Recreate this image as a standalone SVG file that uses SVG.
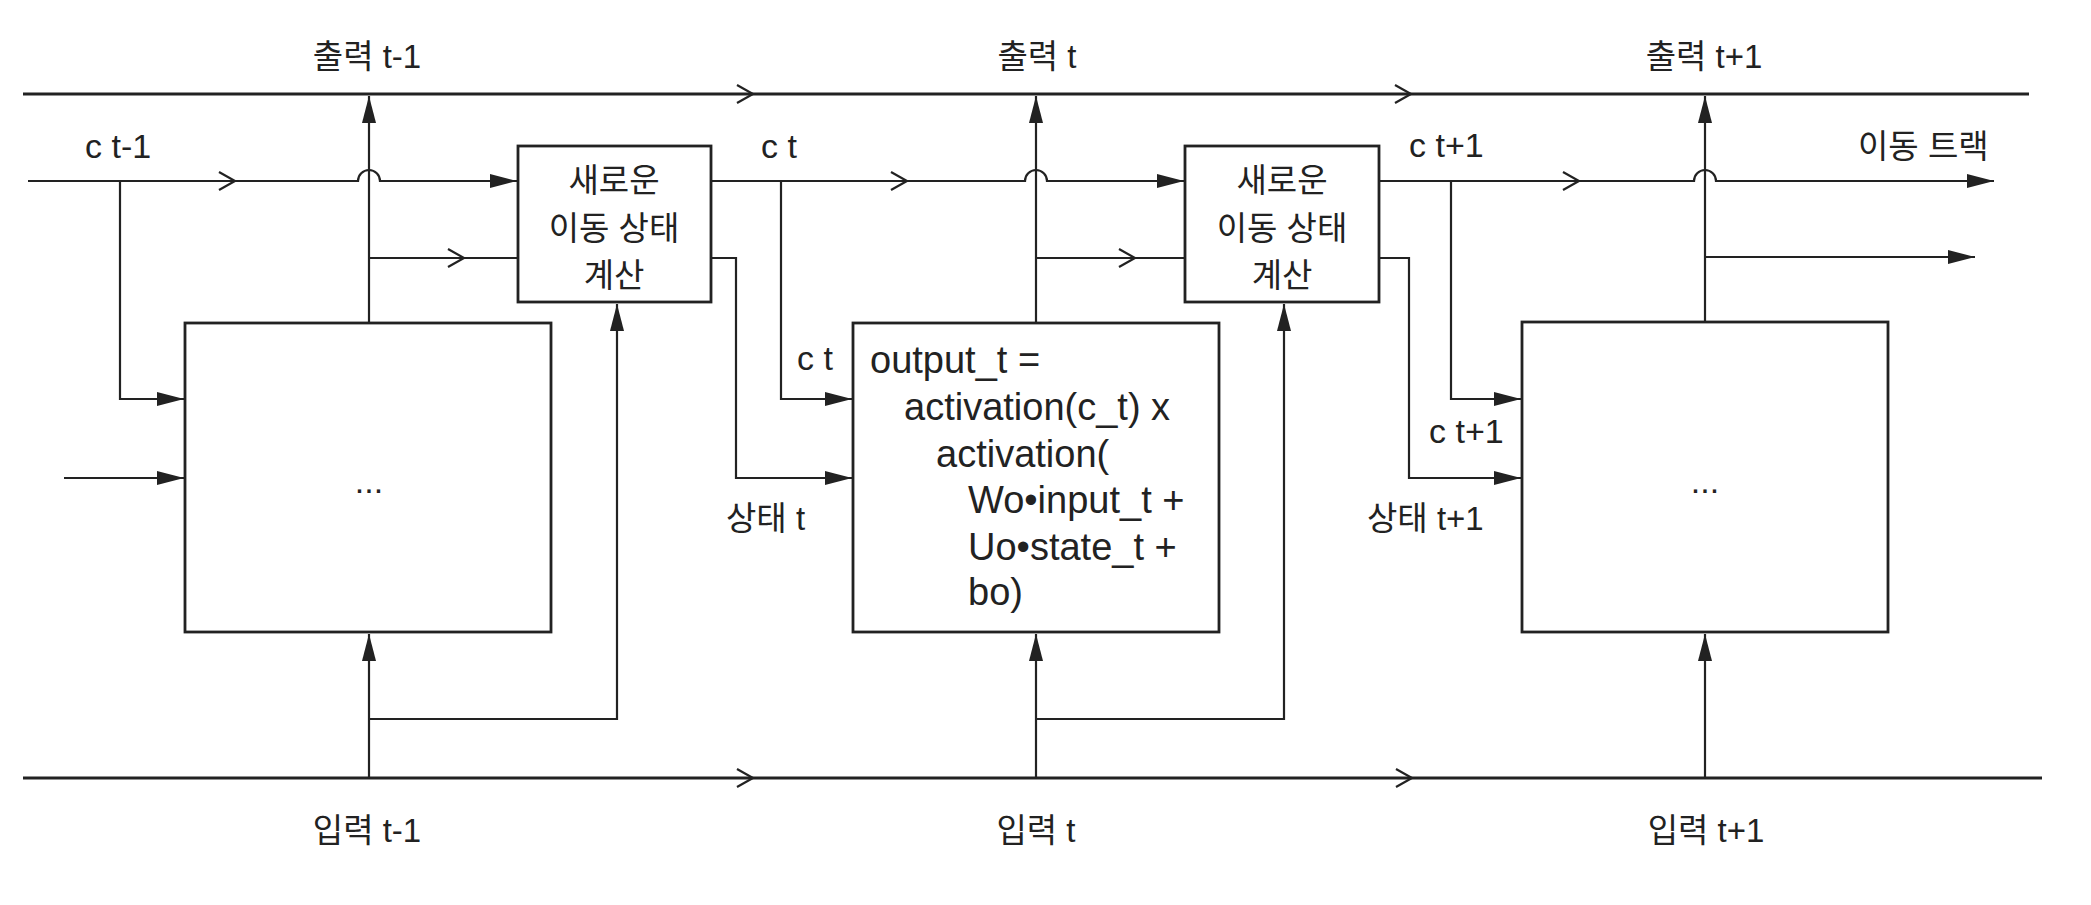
<svg xmlns="http://www.w3.org/2000/svg" width="2091" height="905" viewBox="0 0 2091 905">
<style>
.ln{fill:none;stroke:#222;stroke-width:2.2}
.mn{fill:none;stroke:#222;stroke-width:2.8}
.bx{fill:#fff;stroke:#222;stroke-width:2.8}
.ch{fill:none;stroke:#222;stroke-width:2.2}
.t{font-family:"Liberation Sans","Noto Sans CJK KR",sans-serif;font-size:34px;fill:#222}
.k{font-family:"Liberation Sans","Noto Sans CJK KR",sans-serif;font-size:33px;fill:#222}
.f{font-family:"Liberation Sans",Arial,sans-serif;font-size:38px;fill:#222}
.m{text-anchor:middle}
</style>
<defs>
<marker id="ah" markerUnits="userSpaceOnUse" markerWidth="28" markerHeight="16" refX="27" refY="7" orient="auto">
<path d="M0,0 L27,7 L0,14 z" fill="#222"/>
</marker>
</defs>
<rect width="2091" height="905" fill="#fff"/>

<g id="connectors">
<path class="mn" d="M23,94 H2029"/>
<path class="ch" d="M737,85 L753,94 L737,103"/>
<path class="ch" d="M1395,85 L1411,94 L1395,103"/>
<path class="mn" d="M23,778 H2042"/>
<path class="ch" d="M737,769 L753,778 L737,787"/>
<path class="ch" d="M1396,769 L1412,778 L1396,787"/>

<path class="ln" d="M28,181 H358 A11,11 0 0 1 380,181 H517" marker-end="url(#ah)"/>
<path class="ch" d="M219,172 L235,181 L219,190"/>
<path class="ln" d="M120,181 V399 H184" marker-end="url(#ah)"/>
<path class="ln" d="M711,181 H1025 A11,11 0 0 1 1047,181 H1184" marker-end="url(#ah)"/>
<path class="ch" d="M891,172 L907,181 L891,190"/>
<path class="ln" d="M781,181 V399 H852" marker-end="url(#ah)"/>
<path class="ln" d="M1379,181 H1694 A11,11 0 0 1 1716,181 H1994" marker-end="url(#ah)"/>
<path class="ch" d="M1563,172 L1579,181 L1563,190"/>
<path class="ln" d="M1451,181 V399 H1521" marker-end="url(#ah)"/>

<path class="ln" d="M711,258 H736 V478 H852" marker-end="url(#ah)"/>
<path class="ln" d="M1379,258 H1409 V478 H1521" marker-end="url(#ah)"/>
<path class="ln" d="M64,478 H184" marker-end="url(#ah)"/>

<path class="ln" d="M369,323 V96" marker-end="url(#ah)"/>
<path class="ln" d="M1036,323 V96" marker-end="url(#ah)"/>
<path class="ln" d="M1705,322 V96" marker-end="url(#ah)"/>
<path class="ln" d="M369,258 H518"/>
<path class="ch" d="M448,249 L464,258 L448,267"/>
<path class="ln" d="M1036,258 H1185"/>
<path class="ch" d="M1119,249 L1135,258 L1119,267"/>
<path class="ln" d="M1705,257 H1975" marker-end="url(#ah)"/>

<path class="ln" d="M369,778 V634" marker-end="url(#ah)"/>
<path class="ln" d="M369,719 H617 V304" marker-end="url(#ah)"/>
<path class="ln" d="M1036,778 V634" marker-end="url(#ah)"/>
<path class="ln" d="M1036,719 H1284 V304" marker-end="url(#ah)"/>
<path class="ln" d="M1705,778 V634" marker-end="url(#ah)"/>
</g>

<g id="cell1">
<rect class="bx" x="185" y="323" width="366" height="309"/>
<text class="t m" x="369" y="493">...</text>
</g>
<g id="compute1">
<rect class="bx" x="518" y="146" width="193" height="156"/>
<text class="k m" x="614" y="192">새로운</text>
<text class="k m" x="614" y="240">이동 상태</text>
<text class="k m" x="614" y="287">계산</text>
</g>
<g id="cell2">
<rect class="bx" x="853" y="323" width="366" height="309"/>
<text class="f" x="870" y="373">output_t =</text>
<text class="f" x="904" y="420">activation(c_t) x</text>
<text class="f" x="936" y="467">activation(</text>
<text class="f" x="968" y="513">Wo•input_t +</text>
<text class="f" x="968" y="560">Uo•state_t +</text>
<text class="f" x="968" y="605">bo)</text>
</g>
<g id="compute2">
<rect class="bx" x="1185" y="146" width="194" height="156"/>
<text class="k m" x="1282" y="192">새로운</text>
<text class="k m" x="1282" y="240">이동 상태</text>
<text class="k m" x="1282" y="287">계산</text>
</g>
<g id="cell3">
<rect class="bx" x="1522" y="322" width="366" height="310"/>
<text class="t m" x="1705" y="493">...</text>
</g>

<g id="labels">
<text class="k m" x="367" y="68">출력 t-1</text>
<text class="k m" x="1037" y="68">출력 t</text>
<text class="k m" x="1704" y="68">출력 t+1</text>
<text class="t" x="85" y="158">c t-1</text>
<text class="t" x="761" y="158">c t</text>
<text class="t" x="1409" y="157">c t+1</text>
<text class="k" x="1858" y="158">이동 트랙</text>
<text class="t" x="797" y="370">c t</text>
<text class="k" x="726" y="530">상태 t</text>
<text class="t" x="1429" y="443">c t+1</text>
<text class="k" x="1367" y="530">상태 t+1</text>
<text class="k m" x="367" y="842">입력 t-1</text>
<text class="k m" x="1036" y="842">입력 t</text>
<text class="k m" x="1706" y="842">입력 t+1</text>
</g>
</svg>
